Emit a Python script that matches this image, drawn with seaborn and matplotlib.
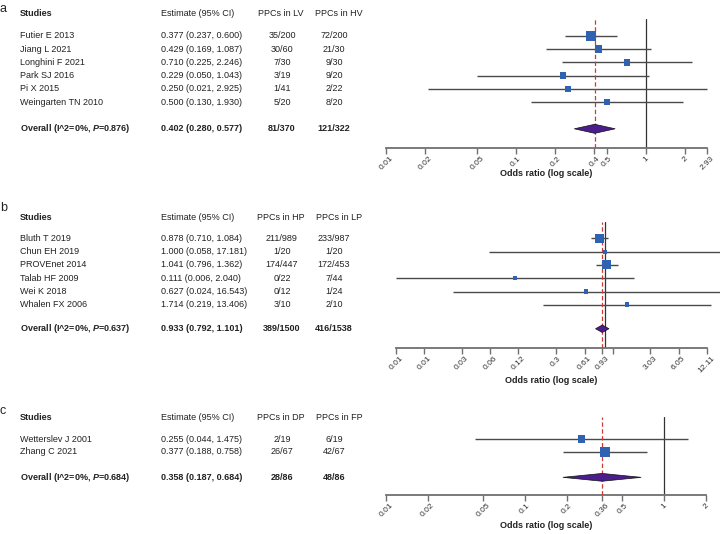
import numpy as np
import pandas as pd
import matplotlib
matplotlib.use("Agg")
import matplotlib.pyplot as plt
import seaborn as sns
from matplotlib import transforms

# ---------------- data ----------------
a_studies = ["Futier E 2013", "Jiang L 2021", "Longhini F 2021", "Park SJ 2016", "Pi X 2015", "Weingarten TN 2010"]
a_est = [0.377, 0.429, 0.710, 0.229, 0.250, 0.500]
a_lo = [0.237, 0.169, 0.225, 0.050, 0.021, 0.130]
a_hi = [0.600, 1.087, 2.246, 1.043, 2.925, 1.930]
a_g1 = ["35/200", "30/60", "7/30", "3/19", "1/41", "5/20"]
a_g2 = ["72/200", "21/30", "9/30", "9/20", "2/22", "8/20"]
a_weight = [34, 18, 13, 12, 8, 13]
a_overall = [0.402, 0.280, 0.577]
a_overall_counts = ["81/370", "121/322"]
a_p = "0.876"
a_cols = ["PPCs in LV", "PPCs in HV"]
a_ticks = [0.01, 0.02, 0.05, 0.1, 0.2, 0.4, 0.5, 1, 2, 2.93]
a_ticklabels = ["0.01", "0.02", "0.05", "0.1", "0.2", "0.4", "0.5", "1", "2", "2.93"]

b_studies = ["Bluth T 2019", "Chun EH 2019", "PROVEnet 2014", "Talab HF 2009", "Wei K 2018", "Whalen FX 2006"]
b_est = [0.878, 1.000, 1.041, 0.111, 0.627, 1.714]
b_lo = [0.710, 0.058, 0.796, 0.006, 0.024, 0.219]
b_hi = [1.084, 17.181, 1.362, 2.040, 16.543, 13.406]
b_g1 = ["211/989", "1/20", "174/447", "0/22", "0/12", "3/10"]
b_g2 = ["233/987", "1/20", "172/453", "7/44", "1/24", "2/10"]
b_weight = [30, 3.4, 28.5, 3.4, 4.1, 5.1]
b_overall = [0.933, 0.792, 1.101]
b_overall_counts = ["389/1500", "416/1538"]
b_p = "0.637"
b_cols = ["PPCs in HP", "PPCs in LP"]
b_ticks = [0.006, 0.012, 0.03, 0.06, 0.12, 0.3, 0.61, 0.93, 1.21, 3.03, 6.05, 12.11]
b_ticklabels = ["0.01", "0.01", "0.03", "0.06", "0.12", "0.3", "0.61", "0.93", "", "3.03", "6.05", "12.11"]

c_studies = ["Wetterslev J 2001", "Zhang C 2021"]
c_est = [0.255, 0.377]
c_lo = [0.044, 0.188]
c_hi = [1.475, 0.758]
c_g1 = ["2/19", "26/67"]
c_g2 = ["6/19", "42/67"]
c_weight = [18, 37.6]
c_overall = [0.358, 0.187, 0.684]
c_overall_counts = ["28/86", "48/86"]
c_p = "0.684"
c_cols = ["PPCs in DP", "PPCs in FP"]
c_ticks = [0.01, 0.02, 0.05, 0.1, 0.2, 0.36, 0.5, 1, 2]
c_ticklabels = ["0.01", "0.02", "0.05", "0.1", "0.2", "0.36", "0.5", "1", "2"]

# ---------------- style ----------------
sns.set_style("white")
plt.rcParams["font.family"] = ["Liberation Sans", "DejaVu Sans"]
plt.rcParams["mathtext.fontset"] = "custom"
plt.rcParams["mathtext.rm"] = "Liberation Sans"
plt.rcParams["mathtext.it"] = "Liberation Sans:italic"
plt.rcParams["mathtext.bf"] = "Liberation Sans:bold"
try:
    plt.rcParams["mathtext.bfit"] = "Liberation Sans:italic:bold"
except KeyError:
    pass

W, H = 720, 534
fig = plt.figure(figsize=(W / 100, H / 100), dpi=100)
fig.patch.set_facecolor("white")

TXT = "#222222"
BLUE = "#2F62B0"
PURPLE = "#4B1E8B"
RED = "#D03A36"
FS = 6.5
TFS = 6.0


def panel(letter, letter_base, box, first_px, sp, gap, header_px, xlim,
          studies, est, lo, hi, g1, g2, weight, overall, ocounts, pval,
          cols, ticks, ticklabels, diam_h, labelpad):
    left, right, top, bottom = box
    ax = fig.add_axes([left / W, 1 - bottom / H, (right - left) / W, (bottom - top) / H])
    n = len(studies)
    ys = np.arange(n, dtype=float)
    oy = n - 1 + gap

    df = pd.DataFrame({"est": est, "y": ys, "weight": weight})
    ax.set_xscale("log")
    ax.hlines(ys, lo, hi, color="#4a4a4a", lw=1.0, clip_on=False, zorder=2)
    sns.scatterplot(data=df, x="est", y="y", size="weight", sizes=(4, 142),
                    size_norm=(0, 100), marker="s", color=BLUE, linewidth=0,
                    legend=False, ax=ax, zorder=4)
    ax.axvline(1, color="#333333", lw=0.9, zorder=1)
    ax.axvline(overall[0], color=RED, lw=0.9, ls=(0, (3.5, 2)), zorder=3)
    ax.fill([overall[1], overall[0], overall[2], overall[0]],
            [oy, oy - diam_h, oy, oy + diam_h],
            facecolor=PURPLE, edgecolor="#111111", lw=0.5, zorder=5)

    ax.set_xlim(*xlim)
    ax.set_ylim((bottom - first_px) / sp, (top - first_px) / sp)
    ax.set_xticks(ticks)
    ax.set_xticklabels(ticklabels)
    ax.xaxis.set_minor_locator(matplotlib.ticker.NullLocator())
    ax.set_yticks([])
    ax.set_ylabel("")
    ax.set_xlabel("Odds ratio (log scale)", fontsize=FS, fontweight="bold",
                  color=TXT, labelpad=labelpad)
    for s in ["left", "top", "right"]:
        ax.spines[s].set_visible(False)
    ax.spines["bottom"].set_color("#707070")
    ax.spines["bottom"].set_linewidth(1.3)
    ax.tick_params(axis="x", length=4, width=1, color="#707070", labelsize=TFS,
                   labelcolor="#333333", pad=1, bottom=True)
    for lbl in ax.get_xticklabels():
        lbl.set_rotation(45)
    ax.patch.set_alpha(0)

    tr = transforms.blended_transform_factory(fig.transFigure, ax.transData)
    hy = (header_px - first_px) / sp
    kw = dict(transform=tr, va="center", fontsize=FS, color=TXT, clip_on=False)
    ax.text(20 / W, hy, "Studies", ha="left", fontweight="bold", **kw)
    ax.text(161 / W, hy, "Estimate (95% CI)", ha="left", **kw)
    ax.text(281 / W, hy, cols[0], ha="center", **kw)
    ax.text(339 / W, hy, cols[1], ha="center", **kw)
    for i in range(n):
        ax.text(20 / W, ys[i], studies[i], ha="left", **kw)
        ax.text(161 / W, ys[i], f"{est[i]:.3f} ({lo[i]:.3f}, {hi[i]:.3f})", ha="left", **kw)
        ax.text(282 / W, ys[i], g1[i], ha="center", **kw)
        ax.text(334 / W, ys[i], g2[i], ha="center", **kw)
    ax.text(20 / W, oy, r"Overall (I^2=0%, $\mathbfit{P}$=" + pval + ")",
            ha="left", fontweight="bold", **kw)
    ax.text(161 / W, oy, f"{overall[0]:.3f} ({overall[1]:.3f}, {overall[2]:.3f})",
            ha="left", fontweight="bold", **kw)
    ax.text(282 / W, oy, ocounts[0], ha="center", fontweight="bold", **kw)
    ax.text(334 / W, oy, ocounts[1], ha="center", fontweight="bold", **kw)

    fig.text(0 / W, 1 - letter_base / H, letter, fontsize=9, color=TXT, va="baseline")
    return ax


panel("a", 12, (386, 707, 19, 148), 35.7, 13.3, 2.0, 14, (0.01, 2.93),
      a_studies, a_est, a_lo, a_hi, a_g1, a_g2, a_weight, a_overall,
      a_overall_counts, a_p, a_cols, a_ticks, a_ticklabels, 0.34, -2)
panel("b", 211, (396, 707, 222, 348), 238.3, 13.3, 1.8, 217, (0.006, 12.11),
      b_studies, b_est, b_lo, b_hi, b_g1, b_g2, b_weight, b_overall,
      b_overall_counts, b_p, b_cols, b_ticks, b_ticklabels, 0.28, 1)
panel("c", 414, (386, 706, 417, 495), 439.0, 13.0, 1.95, 417, (0.01, 2),
      c_studies, c_est, c_lo, c_hi, c_g1, c_g2, c_weight, c_overall,
      c_overall_counts, c_p, c_cols, c_ticks, c_ticklabels, 0.3, 2)

fig.savefig("out.png", dpi=100, facecolor="white")
